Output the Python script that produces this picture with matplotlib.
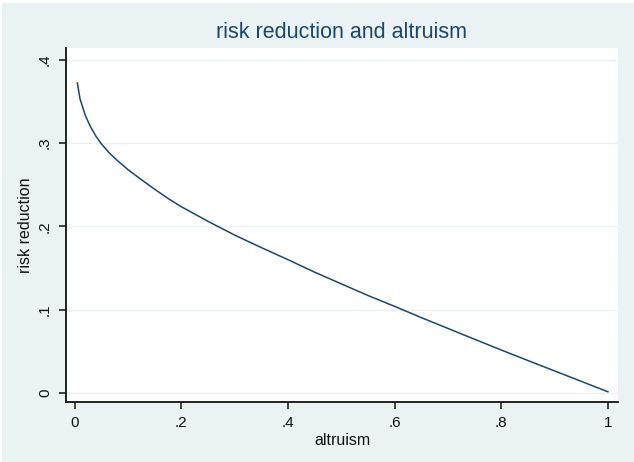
import matplotlib
matplotlib.use("Agg")
import matplotlib.pyplot as plt
from matplotlib.patches import Rectangle

# Data
altruism = [0.005, 0.01, 0.02, 0.03, 0.04, 0.05, 0.065, 0.08, 0.10, 0.125,
            0.15, 0.175, 0.20, 0.25, 0.30, 0.35, 0.40, 0.45, 0.50, 0.55,
            0.60, 0.65, 0.70, 0.75, 0.80, 0.85, 0.90, 0.95, 1.0]
risk_reduction = [0.372, 0.353, 0.333, 0.319, 0.308, 0.299, 0.288, 0.279, 0.268, 0.256,
                  0.2445, 0.2335, 0.2235, 0.206, 0.1895, 0.1745, 0.160, 0.145, 0.131, 0.117,
                  0.104, 0.0905, 0.0775, 0.0645, 0.0516, 0.039, 0.0265, 0.014, 0.0015]
x_ticks = [0, 0.2, 0.4, 0.6, 0.8, 1.0]
x_tick_labels = ["0", ".2", ".4", ".6", ".8", "1"]
y_ticks = [0, 0.1, 0.2, 0.3, 0.4]
y_tick_labels = ["0", ".1", ".2", ".3", ".4"]

plt.rcParams['font.family'] = ['Liberation Sans', 'DejaVu Sans']

W, H = 634, 462
fig = plt.figure(figsize=(W / 100, H / 100), dpi=100)
fig.patch.set_facecolor("white")
bg = "#EAF2F3"
fig.add_artist(Rectangle((2 / W, 0), (W - 2) / W, (H - 3) / H, transform=fig.transFigure,
                         facecolor=bg, edgecolor="none", zorder=-10))

ax = fig.add_axes([66 / W, 1 - 402 / H, (618 - 66) / W, (402 - 48) / H])
ax.set_facecolor("white")
ax.plot(altruism, risk_reduction, color="#1a476f", linewidth=1.1)

ax.set_xlim(-0.0163, 1.019)
ax.set_ylim(-0.0108, 0.414)
ax.set_xticks(x_ticks)
ax.set_xticklabels(x_tick_labels)
ax.set_yticks(y_ticks)
ax.set_yticklabels(y_tick_labels, rotation=90, va="center")

ax.grid(axis="y", color="#EAF2F3", linewidth=1.0)
ax.set_axisbelow(True)
for s in ["top", "right"]:
    ax.spines[s].set_visible(False)
for s in ["left", "bottom"]:
    ax.spines[s].set_color("#111111")
    ax.spines[s].set_linewidth(1.3)

ax.tick_params(axis="both", length=5, width=1.1, color="#111111", labelsize=11, labelcolor="#111111")
ax.tick_params(axis="x", pad=5)
ax.tick_params(axis="y", pad=5)

ax.set_xlabel("altruism", fontsize=11.5, color="#111111", labelpad=2)
ax.set_ylabel("risk reduction", fontsize=11.5, color="#111111", labelpad=4)

fig.text(342 / W, 1 - 33 / H, "risk reduction and altruism", ha="center", va="center",
         fontsize=15.5, color="#1a476f")

fig.savefig("out.png", dpi=100, facecolor=fig.get_facecolor())
